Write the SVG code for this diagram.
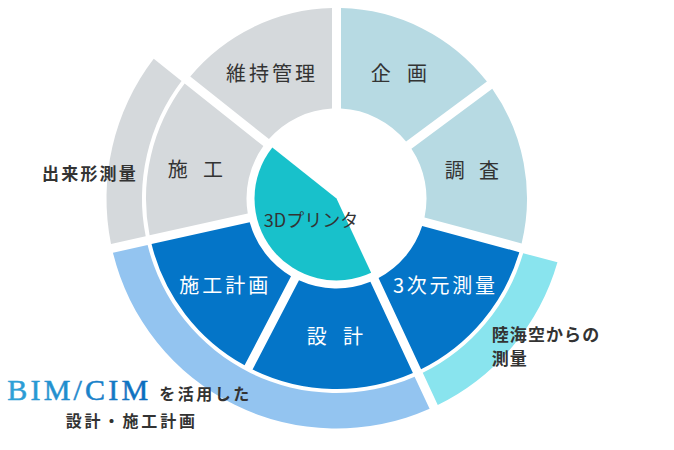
<svg xmlns="http://www.w3.org/2000/svg" width="674" height="450" viewBox="0 0 674 450">
<defs>
<style>
.lbl{font-family:"Noto Sans CJK JP","Noto Sans",sans-serif;font-size:20px;font-weight:400;fill:#333;}
.core{font-size:18px;}
.wht{fill:#fff;}
.note{font-family:"Noto Sans CJK JP","Noto Sans",sans-serif;font-weight:700;fill:#333;}
.plan{fill:#b7dae3;}
.gray{fill:#d5d9dc;}
.dark{fill:#0475c8;}
</style>
<linearGradient id="bimg" x1="0" y1="0" x2="1" y2="0">
<stop offset="0" stop-color="#2fa3d8"/>
<stop offset="1" stop-color="#0a6abd"/>
</linearGradient>
</defs>
<rect width="674" height="450" fill="#fff"/>
<g id="connectors"></g>
<g id="band-survey">
<path d="M557.46,262.36 A230,230 0 0 1 437.76,405.01 L422.76,372.83 A194.5,194.5 0 0 0 523.16,253.18 Z" fill="#89e4ee"/>
<text class="note" font-size="17" letter-spacing="1.1"><tspan x="491.7" y="340.5">陸海空からの</tspan><tspan x="491.7" y="364.5">測量</tspan></text>
</g>
<g id="band-bim">
<path d="M429.61,408.81 A230,230 0 0 1 112.96,252.67 L147.63,244.98 A194.5,194.5 0 0 0 414.60,376.64 Z" fill="#93c4f0"/>
<text x="7.3" y="400" font-family="Liberation Serif,serif" font-size="30" letter-spacing="3.2" fill="url(#bimg)" stroke="url(#bimg)" stroke-width="0.5">BIM/CIM</text>
<text x="159.3" y="399.5" class="note" font-size="16" letter-spacing="2.5">を活用した</text>
<text x="65.7" y="426.5" class="note" font-size="16" letter-spacing="2.9">設計・施工計画</text>
</g>
<g id="band-asbuilt">
<path d="M111.01,243.88 A230,230 0 0 1 153.73,58.87 L181.52,80.97 A194.5,194.5 0 0 0 145.69,236.19 Z" class="gray"/>
<text x="42" y="179.5" class="note" font-size="17" letter-spacing="2.2">出来形測量</text>
</g>
<g id="seg-kikaku">
<path d="M341.00,8.05 A190.5,190.5 0 0 1 486.92,81.60 L406.08,141.42 A90,90 0 0 0 341.00,108.61 Z" class="plan"/>
<text class="lbl" y="80.5" text-anchor="middle"><tspan x="383">企</tspan> <tspan x="417">画</tspan></text>
</g>
<g id="seg-chosa">
<path d="M492.27,88.83 A190.5,190.5 0 0 1 521.63,243.44 L424.49,217.42 A90,90 0 0 0 411.44,148.65 Z" class="plan"/>
<text class="lbl" y="178" text-anchor="middle"><tspan x="457">調</tspan> <tspan x="489">査</tspan></text>
</g>
<g id="seg-3d">
<path d="M519.30,252.14 A190.5,190.5 0 0 1 421.07,369.20 L378.57,278.06 A90,90 0 0 0 422.16,226.11 Z" class="dark"/>
<text x="445.4" y="292.5" class="lbl wht" text-anchor="middle" letter-spacing="2.75">3次元測量</text>
</g>
<g id="seg-sekkei">
<path d="M412.91,373.01 A190.5,190.5 0 0 1 252.55,369.51 L298.99,280.31 A90,90 0 0 0 370.41,281.87 Z" class="dark"/>
<text class="lbl wht" y="344" text-anchor="middle"><tspan x="319">設</tspan> <tspan x="353">計</tspan></text>
</g>
<g id="seg-sekokeikaku">
<path d="M244.57,365.35 A190.5,190.5 0 0 1 151.54,244.12 L249.71,222.35 A90,90 0 0 0 291.00,276.15 Z" class="dark"/>
<text x="225.2" y="292.5" class="lbl wht" text-anchor="middle" letter-spacing="3">施工計画</text>
</g>
<g id="seg-seko">
<path d="M149.59,235.33 A190.5,190.5 0 0 1 184.65,83.47 L263.35,146.07 A90,90 0 0 0 247.77,213.56 Z" class="gray"/>
<text class="lbl" y="176.5" text-anchor="middle"><tspan x="180">施</tspan> <tspan x="213">工</tspan></text>
</g>
<g id="seg-iji">
<path d="M190.26,76.42 A190.5,190.5 0 0 1 332.00,8.05 L332.00,108.61 A90,90 0 0 0 268.95,139.02 Z" class="gray"/>
<text x="272" y="80.5" class="lbl" text-anchor="middle" letter-spacing="3">維持管理</text>
</g>
<g id="core-3dprinter">
<path d="M336.5,198.5 L371.15,272.82 A82,82 0 0 1 272.33,147.45 Z" fill="#18c1cb"/>
<text x="311" y="226.5" class="lbl core" text-anchor="middle">3Dプリンタ</text>
</g>
</svg>
